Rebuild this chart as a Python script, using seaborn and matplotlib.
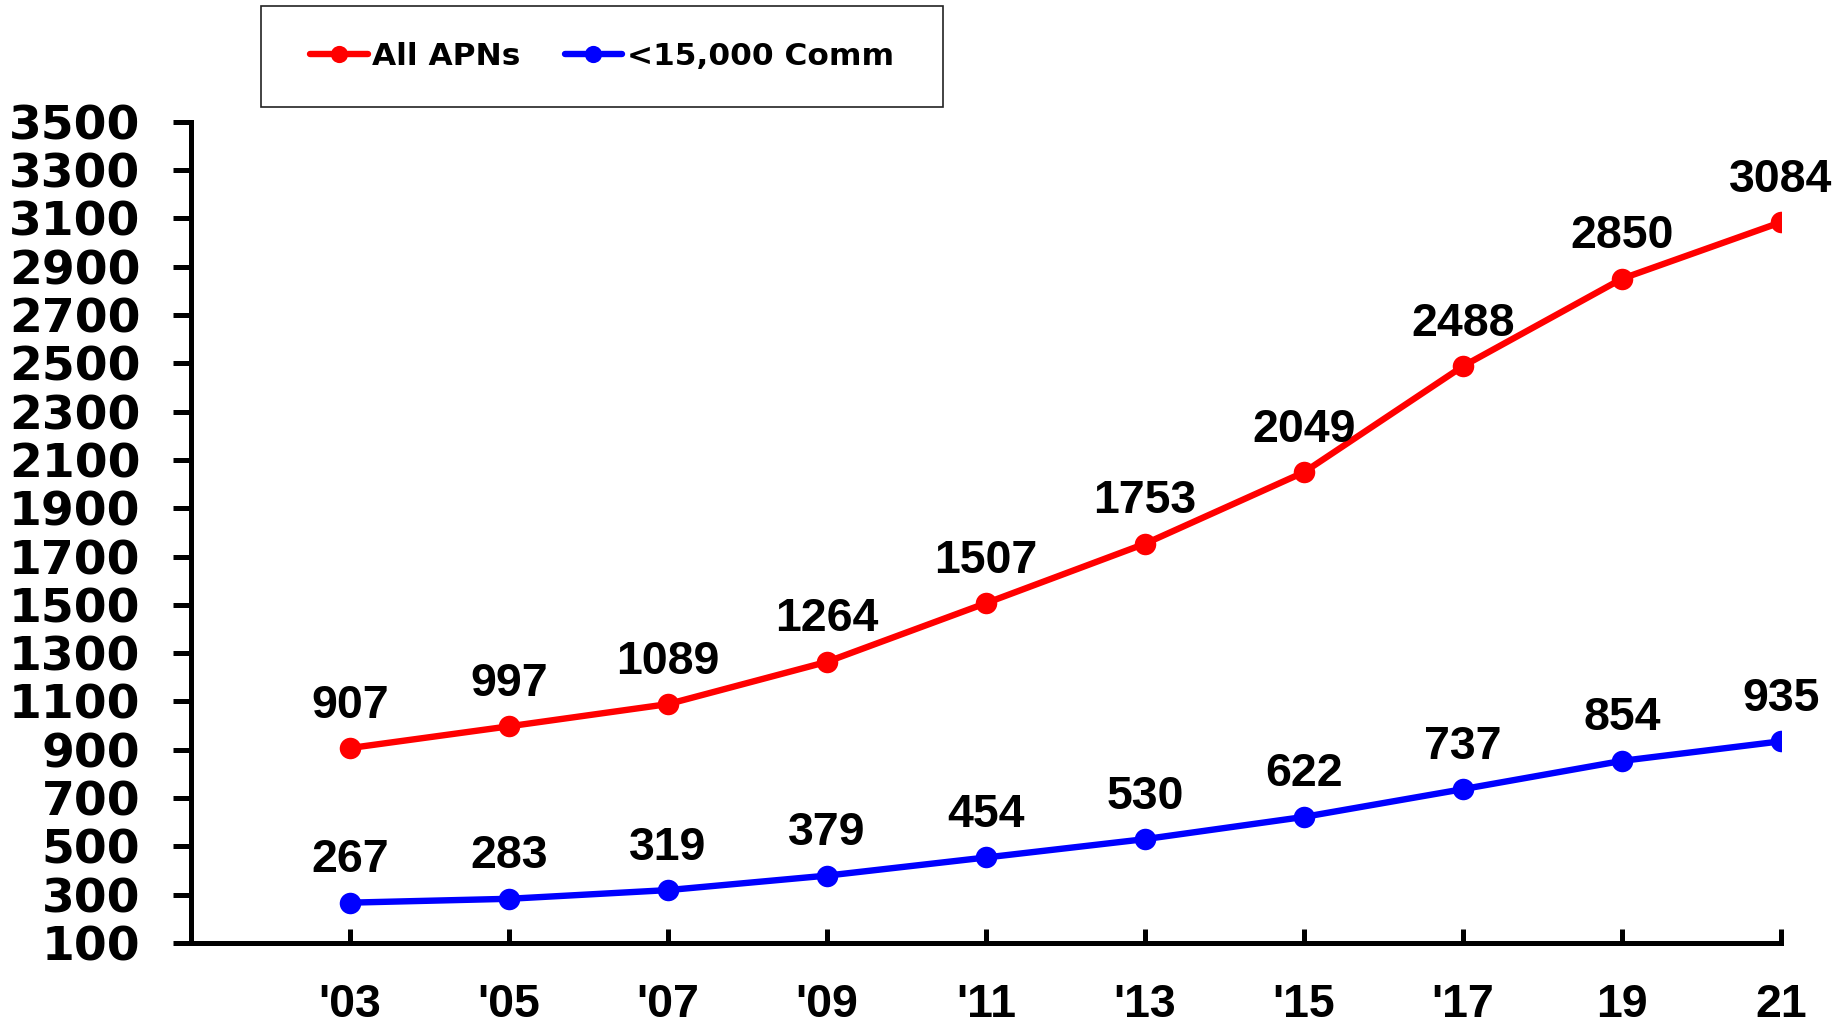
import numpy as np
import pandas as pd
import matplotlib
matplotlib.use("Agg")
import matplotlib.pyplot as plt
import seaborn as sns
from matplotlib.patches import Rectangle

# data
years = ["'03", "'05", "'07", "'09", "'11", "'13", "'15", "'17", "19", "21"]
all_apns = [907, 997, 1089, 1264, 1507, 1753, 2049, 2488, 2850, 3084]
small_comm = [267, 283, 319, 379, 454, 530, 622, 737, 854, 935]
series_names = ['All APNs', '<15,000 Comm']
series_colors = ['#FF0000', '#0000FF']

sns.set_style('white')
plt.rcParams['font.family'] = ['DejaVu Sans']
plt.rcParams['text.color'] = 'black'
plt.rcParams['xtick.color'] = 'black'
plt.rcParams['ytick.color'] = 'black'
plt.rcParams['axes.labelcolor'] = 'black'

fig = plt.figure(figsize=(18.43, 10.25), dpi=100)
ax = fig.add_axes([0.10364, 0.08, 0.86272, 0.80127])

for name, vals, col in zip(series_names, [all_apns, small_comm], series_colors):
    sns.lineplot(x=years, y=vals, ax=ax, color=col, marker='o', markersize=15.5,
                 markeredgewidth=0, linewidth=4.6, label=name, sort=False)
    # value labels above each point
    for i, v in enumerate(vals):
        ax.annotate(str(v), xy=(i, v), xytext=(0, 22), textcoords='offset points',
                    ha='center', va='baseline', fontsize=33.5, fontweight='bold',
                    family='Liberation Sans', color='black')

ax.set_xlim(-1, 9)
ax.set_ylim(100, 3500)
ax.set_yticks(np.arange(100, 3501, 200))
ax.set_xlabel('')
ax.set_ylabel('')

for side in ['top', 'right']:
    ax.spines[side].set_visible(False)
for side in ['left', 'bottom']:
    ax.spines[side].set_linewidth(3.6)
    ax.spines[side].set_color('black')

ax.tick_params(axis='y', direction='out', length=13, width=3.6, pad=23.5,
               labelsize=34, left=True, colors='black')
ax.tick_params(axis='x', direction='in', length=10, width=3.6, pad=29,
               labelsize=33.5, bottom=True, colors='black')
for lab in ax.get_yticklabels():
    lab.set_fontweight('bold')
for lab in ax.get_xticklabels():
    lab.set_fontweight('bold')
    lab.set_family('Liberation Sans')

# legend box at the top
ax.get_legend().remove()
box = (0.1416, 0.8956, 0.3701, 0.0985)
fig.patches.append(Rectangle((box[0], box[1]), box[2], box[3], transform=fig.transFigure,
                             fill=False, edgecolor='#222222', linewidth=1.2))
handles, labels = ax.get_legend_handles_labels()
fig.legend(handles, labels, loc='center', bbox_to_anchor=box, bbox_transform=fig.transFigure,
           ncol=2, frameon=False, handlelength=1.85, handletextpad=0.15, columnspacing=1.4,
           markerscale=0.8, prop={'weight': 'bold', 'size': 22.5})

fig.savefig('out.png', dpi=100, facecolor='white')
